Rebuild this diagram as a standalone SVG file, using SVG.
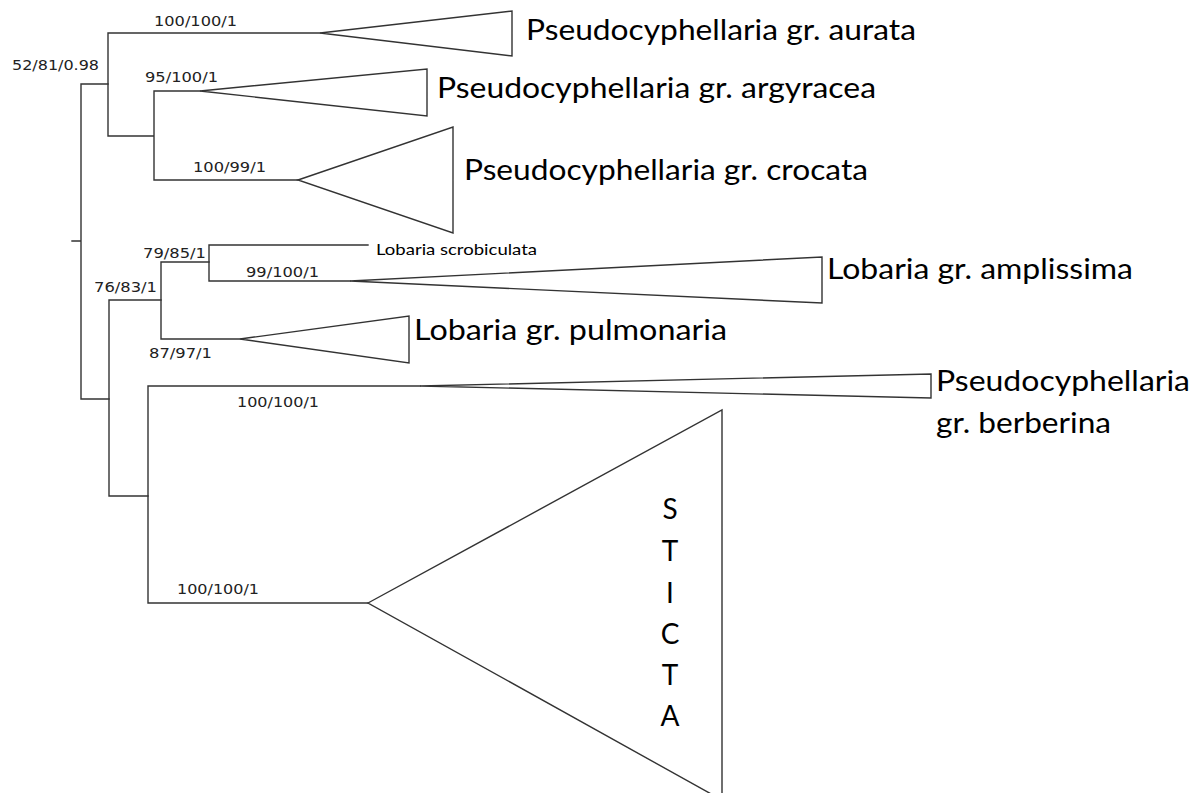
<svg xmlns="http://www.w3.org/2000/svg" width="1202" height="793" viewBox="0 0 1202 793">
<style>
.br{fill:none;stroke:#333;stroke-width:1.4;stroke-linecap:square}
.tri{fill:#fff;stroke:#333;stroke-width:1.4;stroke-linejoin:miter}
.sup{font-family:"DejaVu Sans",Verdana,sans-serif;font-size:14px;fill:#222}
.lab{font-family:Lato,"Open Sans",sans-serif;font-size:28px;fill:#000}
.small{font-family:Lato,"Open Sans",sans-serif;font-size:15px;fill:#000}
</style>
<rect width="1202" height="793" fill="#fff"/>
<g id="connectors">
<path class="br" d="M72,241H81V84H108M81,241V399H109"/>
<path class="br" d="M108,33V136H154M108,33H320M154,91V180M154,91H200M154,180H298"/>
<path class="br" d="M109,300V496M109,300H161M109,496H148"/>
<path class="br" d="M161,262V339M161,262H209M161,339H240"/>
<path class="br" d="M209,245V281M209,245H368M209,281H350"/>
<path class="br" d="M148,386V603M148,386H420M148,603H368"/>
</g>
<g id="supports">
<text class="sup" x="154" y="26" textLength="83" lengthAdjust="spacingAndGlyphs">100/100/1</text>
<text class="sup" x="12" y="70" textLength="87" lengthAdjust="spacingAndGlyphs">52/81/0.98</text>
<text class="sup" x="145" y="82" textLength="73" lengthAdjust="spacingAndGlyphs">95/100/1</text>
<text class="sup" x="193" y="172" textLength="73" lengthAdjust="spacingAndGlyphs">100/99/1</text>
<text class="sup" x="143" y="258" textLength="63" lengthAdjust="spacingAndGlyphs">79/85/1</text>
<text class="sup" x="94" y="292" textLength="63" lengthAdjust="spacingAndGlyphs">76/83/1</text>
<text class="sup" x="246" y="277" textLength="73" lengthAdjust="spacingAndGlyphs">99/100/1</text>
<text class="sup" x="149" y="358" textLength="63" lengthAdjust="spacingAndGlyphs">87/97/1</text>
<text class="sup" x="237" y="407" textLength="82" lengthAdjust="spacingAndGlyphs">100/100/1</text>
<text class="sup" x="177" y="594" textLength="82" lengthAdjust="spacingAndGlyphs">100/100/1</text>
</g>
<g id="aurata">
<polygon class="tri" points="320,33 512,11 512,56"/>
<text class="lab" x="526" y="40" textLength="390" lengthAdjust="spacingAndGlyphs">Pseudocyphellaria gr. aurata</text>
</g>
<g id="argyracea">
<polygon class="tri" points="200,91 427,69 427,116"/>
<text class="lab" x="437" y="98" textLength="439" lengthAdjust="spacingAndGlyphs">Pseudocyphellaria gr. argyracea</text>
</g>
<g id="crocata">
<polygon class="tri" points="298,180 453,127 453,233"/>
<text class="lab" x="464" y="180" textLength="404" lengthAdjust="spacingAndGlyphs">Pseudocyphellaria gr. crocata</text>
</g>
<g id="scrobiculata">
<text class="small" x="376" y="255" textLength="161" lengthAdjust="spacingAndGlyphs">Lobaria scrobiculata</text>
</g>
<g id="amplissima">
<polygon class="tri" points="350,281 822,257 822,303"/>
<text class="lab" x="827" y="279" textLength="306" lengthAdjust="spacingAndGlyphs">Lobaria gr. amplissima</text>
</g>
<g id="pulmonaria">
<polygon class="tri" points="240,339 409,316 409,363"/>
<text class="lab" x="414" y="340" textLength="313" lengthAdjust="spacingAndGlyphs">Lobaria gr. pulmonaria</text>
</g>
<g id="berberina">
<polygon class="tri" points="420,386 931,374 931,398"/>
<text class="lab" x="936" y="391" textLength="254" lengthAdjust="spacingAndGlyphs">Pseudocyphellaria</text>
<text class="lab" x="936" y="433" textLength="175" lengthAdjust="spacingAndGlyphs">gr. berberina</text>
</g>
<g id="sticta">
<polygon class="tri" points="368,603 722,410 722,800"/>
<g class="lab" text-anchor="middle">
<text x="670" y="519">S</text>
<text x="670" y="561">T</text>
<text x="670" y="603">I</text>
<text x="670" y="644">C</text>
<text x="670" y="685">T</text>
<text x="670" y="726">A</text>
</g>
</g>
</svg>
